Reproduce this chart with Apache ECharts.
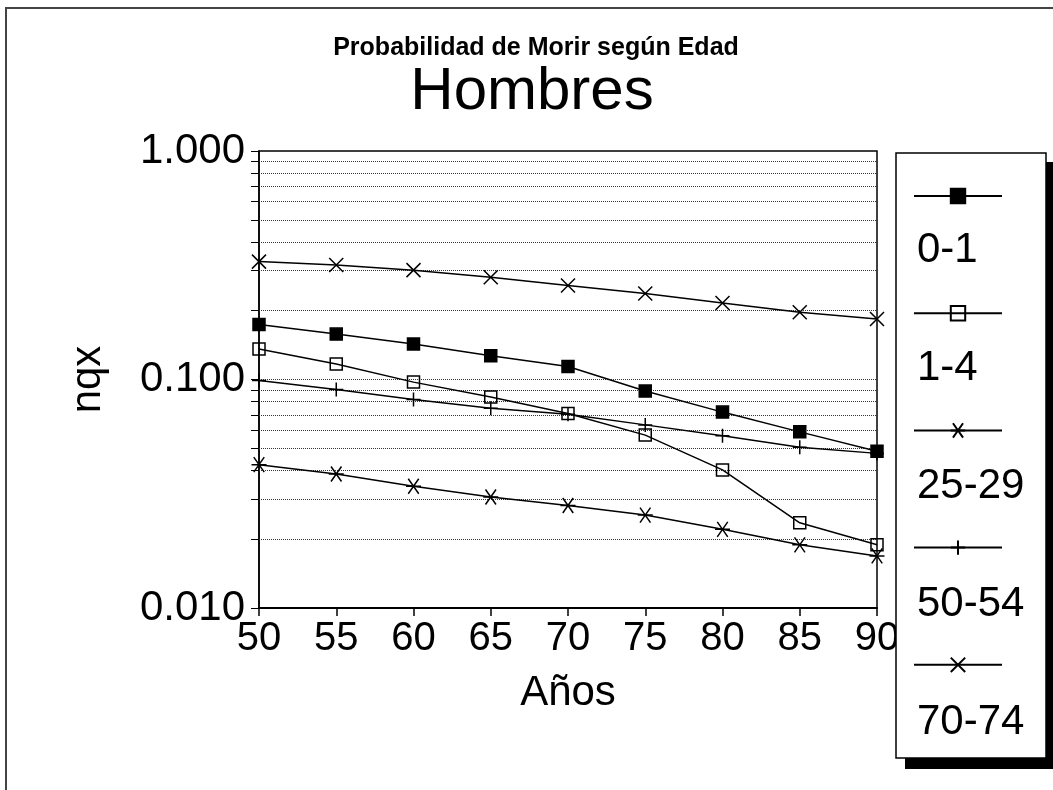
<!DOCTYPE html>
<html>
<head>
<meta charset="utf-8">
<script src="https://cdn.jsdelivr.net/npm/echarts@6/dist/echarts.min.js"></script>
<style>
  html, body { margin: 0; padding: 0; background: #fff; }
  #chart { width: 1053px; height: 790px; }
</style>
</head>
<body>
<div id="chart"></div>
<script>
// años (eje x)
const years = [50, 55, 60, 65, 70, 75, 80, 85, 90];
// nqx por grupo de edad
const q0_1   = [0.174, 0.158, 0.143, 0.127, 0.114, 0.089, 0.072, 0.059, 0.0485];
const q1_4   = [0.136, 0.117, 0.0974, 0.0838, 0.071, 0.0571, 0.0402, 0.0236, 0.0189];
const q25_29 = [0.0424, 0.0386, 0.0341, 0.0306, 0.0281, 0.0255, 0.0221, 0.0189, 0.0169];
const q50_54 = [0.099, 0.0905, 0.0818, 0.0748, 0.0705, 0.0633, 0.0567, 0.0505, 0.0475];
const q70_74 = [0.328, 0.317, 0.301, 0.280, 0.258, 0.238, 0.216, 0.197, 0.184];
const groupNames = ["0-1", "1-4", "25-29", "50-54", "70-74"];
// líneas punteadas de la grilla
const gridValues = [0.02, 0.03, 0.04, 0.05, 0.06, 0.07, 0.08, 0.09, 0.1,
                    0.2, 0.3, 0.4, 0.5, 0.6, 0.7, 0.8, 0.9];
const tickValues = [0.01].concat(gridValues, [1]);

const FONT = "'Liberation Sans', Arial, sans-serif";

const pathX = "path://M0,0L10,10M10,0L0,10";
const pathStar = "path://M0,5L10,5M1.5,0.5L8.5,9.5M8.5,0.5L1.5,9.5";
const pathPlus = "path://M5,0L5,10M0,5L10,5";

function pairs(vals) {
    return years.map((y, i) => [y, vals[i]]);
}

function lineSeries(name, vals, symbol, size, fill) {
    return {
        name: name,
        type: "line",
        data: pairs(vals),
        symbol: symbol,
        symbolSize: size,
        showAllSymbol: true,
        lineStyle: { color: "#000", width: 1.5 },
        itemStyle: { color: fill, borderColor: "#000", borderWidth: 1.5 },
        emphasis: { disabled: true },
        z: 3,
    };
}

const series = [
    lineSeries(groupNames[0], q0_1, "rect", 12, "#000"),
    lineSeries(groupNames[1], q1_4, "rect", 12, "transparent"),
    lineSeries(groupNames[2], q25_29, pathStar, 15, "#000"),
    lineSeries(groupNames[3], q50_54, pathPlus, 14, "#000"),
    lineSeries(groupNames[4], q70_74, pathX, 14, "#000"),
];
series[0].markLine = {
    silent: true,
    symbol: "none",
    label: { show: false },
    lineStyle: { color: "#333", type: "dotted", width: 1 },
    data: gridValues.map(v => ({ yAxis: v })),
    z: 1,
};

const option = {
    backgroundColor: "#fff",
    animation: false,
    title: [
        {
            text: "Probabilidad de Morir según Edad",
            left: 531,
            top: 31,
            textAlign: "center",
            textStyle: { fontFamily: FONT, fontSize: 25, fontWeight: "bold", color: "#000" },
        },
        {
            text: "Hombres",
            left: 527,
            top: 57,
            textAlign: "center",
            textStyle: { fontFamily: FONT, fontSize: 60, fontWeight: "normal", color: "#000" },
        },
    ],
    grid: {
        left: 259,
        right: 176,
        top: 151,
        bottom: 182,
        show: true,
        borderColor: "#000",
        borderWidth: 1.5,
        containLabel: false,
    },
    xAxis: {
        type: "value",
        min: 50,
        max: 90,
        interval: 5,
        name: "Años",
        nameLocation: "middle",
        nameGap: 64,
        nameTextStyle: { fontFamily: FONT, fontSize: 42, color: "#000" },
        axisLine: { lineStyle: { color: "#000", width: 2 } },
        axisTick: { length: 8, lineStyle: { color: "#000", width: 1.5 } },
        axisLabel: { fontFamily: FONT, fontSize: 40, color: "#000", margin: 11 },
        splitLine: { show: false },
    },
    yAxis: {
        type: "log",
        logBase: 10,
        min: 0.01,
        max: 1,
        name: "nqx",
        nameLocation: "middle",
        nameGap: 150,
        nameTextStyle: { fontFamily: FONT, fontSize: 42, color: "#000" },
        axisLine: { show: true, lineStyle: { color: "#000", width: 1.5 } },
        axisTick: {
            show: true,
            length: 8,
            customValues: tickValues,
            lineStyle: { color: "#000", width: 1 },
        },
        axisLabel: {
            fontFamily: FONT,
            fontSize: 42,
            color: "#000",
            margin: 14,
            formatter: v => v.toFixed(3),
        },
        splitLine: { show: false },
    },
    legend: [
        {
            data: groupNames,
            orient: "vertical",
            left: 908,
            top: 182,
            itemWidth: 88,
            itemHeight: 18,
            itemGap: 100,
            selectedMode: false,
            formatter: () => "",
            z: 10,
        },
        {
            data: groupNames,
            orient: "vertical",
            left: 906,
            top: 220,
            icon: "rect",
            itemWidth: 0,
            itemHeight: 0,
            itemGap: 68,
            selectedMode: false,
            textStyle: { fontFamily: FONT, fontSize: 42, lineHeight: 50, color: "#000" },
            z: 10,
        },
    ],
    graphic: [
        {
            type: "rect",
            shape: { x: 6, y: 8, width: 1200, height: 1000 },
            style: { fill: "none", stroke: "#444", lineWidth: 2 },
            silent: true,
            z: 0,
        },
        {
            // sombra del recuadro de leyenda
            type: "rect",
            shape: { x: 905, y: 162, width: 160, height: 607 },
            style: { fill: "#000" },
            silent: true,
            z: 5,
        },
        {
            type: "rect",
            shape: { x: 896, y: 153, width: 150, height: 605 },
            style: { fill: "#fff", stroke: "#000", lineWidth: 1.5 },
            silent: true,
            z: 6,
        },
    ],
    series: series,
};

const chart = echarts.init(document.getElementById("chart"));
chart.setOption(option);
</script>
</body>
</html>
